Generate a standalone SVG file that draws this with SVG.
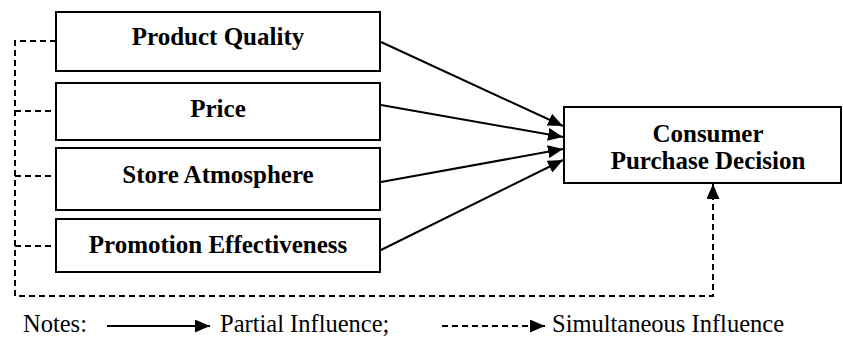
<svg xmlns="http://www.w3.org/2000/svg" width="843" height="338" viewBox="0 0 843 338">
<style>
.box{fill:#fff;stroke:#000;stroke-width:2}
.lbl{font-family:"Liberation Serif","Times New Roman",serif;font-weight:bold;font-size:25px;text-anchor:middle;fill:#000}
.note{font-family:"Liberation Serif","Times New Roman",serif;font-size:24.5px;fill:#000}
.solid{fill:none;stroke:#000;stroke-width:2}
.dash{fill:none;stroke:#000;stroke-width:2;stroke-dasharray:6 4}
</style>
<defs>
<marker id="ah" markerUnits="userSpaceOnUse" markerWidth="15" markerHeight="13" refX="15" refY="6.5" orient="auto">
<path d="M0,0 L15,6.5 L0,13 z" fill="#000"/>
</marker>
</defs>
<rect width="843" height="338" fill="#fff"/>
<g id="connectors">
<line class="solid" x1="381" y1="42" x2="563" y2="126" marker-end="url(#ah)"/>
<line class="solid" x1="381" y1="105" x2="563" y2="137" marker-end="url(#ah)"/>
<line class="solid" x1="381" y1="182" x2="563" y2="149" marker-end="url(#ah)"/>
<line class="solid" x1="381" y1="250" x2="563" y2="160" marker-end="url(#ah)"/>
<path class="dash" d="M56,41 H15 V296 H713 V184" marker-end="url(#ah)"/>
<line class="dash" x1="15" y1="111" x2="56" y2="111"/>
<line class="dash" x1="15" y1="176" x2="56" y2="176"/>
<line class="dash" x1="15" y1="246" x2="56" y2="246"/>
</g>
<g id="product-quality">
<rect class="box" x="56" y="12" width="324" height="59"/>
<text class="lbl" x="218" y="45">Product Quality</text>
</g>
<g id="price">
<rect class="box" x="56" y="83" width="324" height="57"/>
<text class="lbl" x="218" y="117">Price</text>
</g>
<g id="store-atmosphere">
<rect class="box" x="56" y="148" width="324" height="62"/>
<text class="lbl" x="218" y="183">Store Atmosphere</text>
</g>
<g id="promotion-effectiveness">
<rect class="box" x="56" y="219" width="324" height="53"/>
<text class="lbl" x="218" y="253">Promotion Effectiveness</text>
</g>
<g id="consumer-purchase-decision">
<rect class="box" x="564" y="107" width="277" height="76"/>
<text class="lbl" x="708" y="142">Consumer</text>
<text class="lbl" x="708" y="169">Purchase Decision</text>
</g>
<g id="legend">
<text class="note" x="23" y="332">Notes:</text>
<line class="solid" x1="107" y1="326" x2="210" y2="326" marker-end="url(#ah)"/>
<text class="note" x="220" y="332">Partial Influence;</text>
<line class="dash" x1="442" y1="326" x2="545" y2="326" marker-end="url(#ah)"/>
<text class="note" x="552" y="332">Simultaneous Influence</text>
</g>
</svg>
